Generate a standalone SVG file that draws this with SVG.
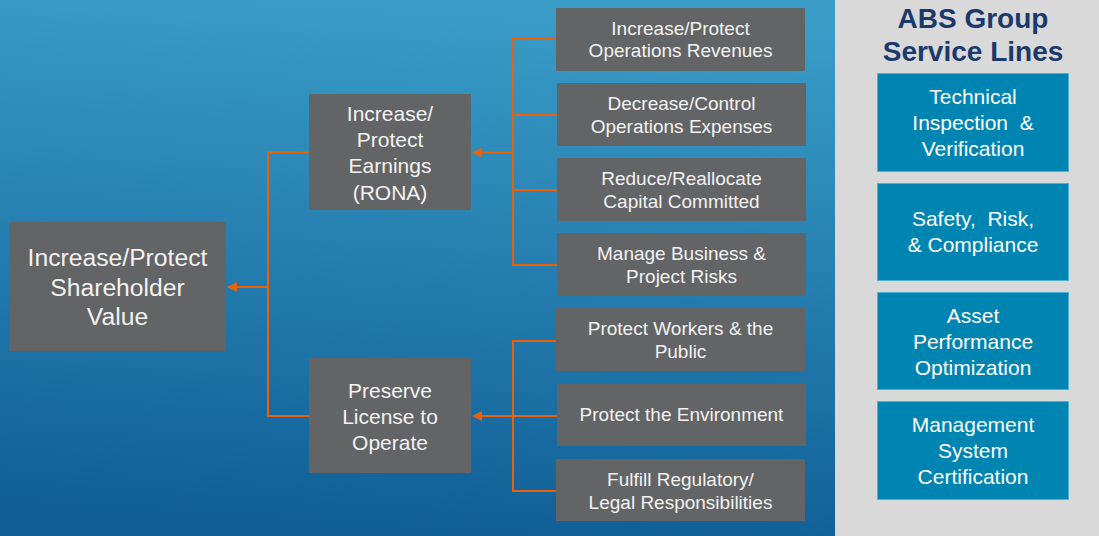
<svg xmlns="http://www.w3.org/2000/svg" width="1099" height="536" viewBox="0 0 1099 536">
  <defs>
    <linearGradient id="bg" x1="0.55" y1="0" x2="0.45" y2="1">
      <stop offset="0" stop-color="#3A9DC8"/>
      <stop offset="1" stop-color="#0F5E96"/>
    </linearGradient>
    <marker id="arr" viewBox="0 0 10 10" refX="9" refY="5" markerWidth="5" markerHeight="5" orient="auto" markerUnits="strokeWidth">
      <path d="M0,0 L10,5 L0,10 z" fill="#E8620E"/>
    </marker>
    <style>
      .g { fill: #636466; }
      .b { fill: #0085B2; stroke: #4FB0D2; stroke-width: 1; }
      .t { font-family: "Liberation Sans", Arial, sans-serif; fill: #F2F2F2; text-anchor: middle; }
      .big { font-size: 24.7px; }
      .mid { font-size: 21px; }
      .sm { font-size: 19px; }
      .sv { font-size: 21px; fill: #FFFFFF; }
      .hd { font-family: "Liberation Sans", Arial, sans-serif; font-weight: bold; font-size: 28px; fill: #1B3A6B; text-anchor: middle; }
      .c { fill: none; stroke: #E8620E; stroke-width: 2; }
    </style>
  </defs>

  <rect x="0" y="0" width="835" height="536" fill="url(#bg)"/>
  <rect x="835" y="0" width="264" height="536" fill="#D9D9D9"/>

  <g id="connectors">
    <polyline class="c" points="309,152.5 268,152.5 268,416 309,416"/>
    <line class="c" x1="268" y1="287" x2="228" y2="287" marker-end="url(#arr)"/>
    <polyline class="c" points="556,39 513,39 513,265 557,265"/>
    <line class="c" x1="513" y1="115" x2="557" y2="115"/>
    <line class="c" x1="513" y1="190" x2="557" y2="190"/>
    <line class="c" x1="513" y1="152.5" x2="473" y2="152.5" marker-end="url(#arr)"/>
    <polyline class="c" points="556,341 513,341 513,491 556,491"/>
    <line class="c" x1="557" y1="416" x2="473" y2="416" marker-end="url(#arr)"/>
  </g>

  <g id="shareholder">
    <rect class="g" x="9" y="222" width="217" height="129"/>
    <text class="t big" x="117.5" y="266">Increase/Protect</text>
    <text class="t big" x="117.5" y="296">Shareholder</text>
    <text class="t big" x="117.5" y="325">Value</text>
  </g>

  <g id="earnings">
    <rect class="g" x="309" y="94" width="162" height="116"/>
    <text class="t mid" x="390" y="121">Increase/</text>
    <text class="t mid" x="390" y="147">Protect</text>
    <text class="t mid" x="390" y="173">Earnings</text>
    <text class="t mid" x="390" y="200">(RONA)</text>
  </g>

  <g id="license">
    <rect class="g" x="309" y="358" width="162" height="115"/>
    <text class="t mid" x="390" y="398">Preserve</text>
    <text class="t mid" x="390" y="424">License to</text>
    <text class="t mid" x="390" y="450">Operate</text>
  </g>

  <g id="revenues">
    <rect class="g" x="556" y="8" width="249" height="63"/>
    <text class="t sm" x="680.5" y="35">Increase/Protect</text>
    <text class="t sm" x="680.5" y="57">Operations Revenues</text>
  </g>
  <g id="expenses">
    <rect class="g" x="557" y="83" width="249" height="63"/>
    <text class="t sm" x="681.5" y="110">Decrease/Control</text>
    <text class="t sm" x="681.5" y="133">Operations Expenses</text>
  </g>
  <g id="capital">
    <rect class="g" x="557" y="158" width="249" height="63"/>
    <text class="t sm" x="681.5" y="185">Reduce/Reallocate</text>
    <text class="t sm" x="681.5" y="208">Capital Committed</text>
  </g>
  <g id="risks">
    <rect class="g" x="557" y="233" width="249" height="63"/>
    <text class="t sm" x="681.5" y="260">Manage Business &amp;</text>
    <text class="t sm" x="681.5" y="283">Project Risks</text>
  </g>
  <g id="workers">
    <rect class="g" x="556" y="308" width="249" height="63"/>
    <text class="t sm" x="680.5" y="335">Protect Workers &amp; the</text>
    <text class="t sm" x="680.5" y="358">Public</text>
  </g>
  <g id="environment">
    <rect class="g" x="557" y="384" width="249" height="62"/>
    <text class="t sm" x="681.5" y="421">Protect the Environment</text>
  </g>
  <g id="regulatory">
    <rect class="g" x="556" y="459" width="249" height="62"/>
    <text class="t sm" x="680.5" y="486">Fulfill Regulatory/</text>
    <text class="t sm" x="680.5" y="509">Legal Responsibilities</text>
  </g>

  <g id="title">
    <text class="hd" x="973" y="28">ABS Group</text>
    <text class="hd" x="973" y="61">Service Lines</text>
  </g>
  <g id="svc-tiv">
    <rect class="b" x="877.5" y="73.5" width="191" height="98"/>
    <text class="t sv" x="973" y="104">Technical</text>
    <text class="t sv" x="973" y="130" xml:space="preserve">Inspection  &amp;</text>
    <text class="t sv" x="973" y="156">Verification</text>
  </g>
  <g id="svc-src">
    <rect class="b" x="877.5" y="183.5" width="191" height="97"/>
    <text class="t sv" x="973" y="226" xml:space="preserve">Safety,  Risk,</text>
    <text class="t sv" x="973" y="252">&amp; Compliance</text>
  </g>
  <g id="svc-apo">
    <rect class="b" x="877.5" y="292.5" width="191" height="97"/>
    <text class="t sv" x="973" y="323">Asset</text>
    <text class="t sv" x="973" y="349">Performance</text>
    <text class="t sv" x="973" y="375">Optimization</text>
  </g>
  <g id="svc-msc">
    <rect class="b" x="877.5" y="401.5" width="191" height="98"/>
    <text class="t sv" x="973" y="432">Management</text>
    <text class="t sv" x="973" y="458">System</text>
    <text class="t sv" x="973" y="484">Certification</text>
  </g>
</svg>
